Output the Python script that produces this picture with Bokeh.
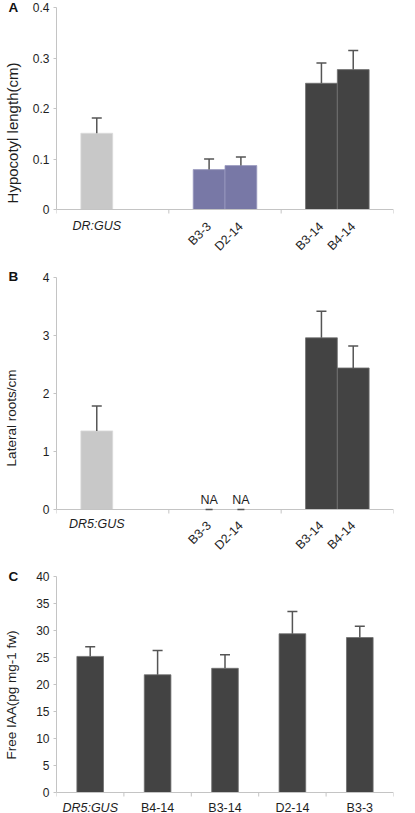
import math
from bokeh.plotting import figure
from bokeh.models import (ColumnDataSource, Whisker, TeeHead, LabelSet, Span,
                          FixedTicker, Range1d, CustomJSTickFormatter)
from bokeh.core.properties import value
from bokeh.layouts import column
from bokeh.embed import file_html
from bokeh.resources import INLINE

FONT = "Liberation Sans"

# ---------------- data ----------------
# Panel A: hypocotyl length
a_labels = ["DR:GUS", "B3-3", "D2-14", "B3-14", "B4-14"]
a_group = [0, 1, 1, 2, 2]
a_slot = [0, 0, 1, 0, 1]
a_values = [0.151, 0.079, 0.087, 0.250, 0.277]
a_errors = [0.030, 0.021, 0.017, 0.040, 0.038]
a_yticks = [0, 0.1, 0.2, 0.3, 0.4]

# Panel B: lateral roots
b_labels = ["DR5:GUS", "B3-3", "D2-14", "B3-14", "B4-14"]
b_group = [0, 1, 1, 2, 2]
b_slot = [0, 0, 1, 0, 1]
b_values = [1.355, 0.0, 0.0, 2.96, 2.44]
b_errors = [0.43, 0.0, 0.0, 0.46, 0.38]
b_na = [False, True, True, False, False]
b_yticks = [0, 1, 2, 3, 4]

# Panel C: free IAA
c_labels = ["DR5:GUS", "B4-14", "B3-14", "D2-14", "B3-3"]
c_values = [25.2, 21.8, 23.0, 29.4, 28.7]
c_errors = [1.8, 4.5, 2.5, 4.1, 2.1]
c_yticks = [0, 5, 10, 15, 20, 25, 30, 35, 40]

GROUP_FILL = ["#c8c8c8", "#7878a6", "#434343"]
GROUP_LINE = ["#dadada", "#9a9ac0", "#707070"]
AXIS_COL = "#c4c4c4"
TEXT_COL = "#1e1e1e"
ERR_COL = "#555555"


def base_fig(height, top, zero, bottom, nx, ymax, yticks, frame_w, ylabel, label_size,
             standoff, fmt, letter, letter_standoff):
    # frame extends below y = 0 so the category labels sit inside it
    above_px = zero - top
    below_px = height - bottom - zero
    ymin = -ymax * below_px / above_px
    p = figure(width=415, height=height, x_range=Range1d(0, nx), y_range=Range1d(ymin, ymax),
               output_backend="svg", toolbar_location=None,
               min_border_left=51, min_border_right=415 - 51 - frame_w,
               min_border_top=top, min_border_bottom=bottom)
    p.xgrid.visible = False
    p.ygrid.visible = False
    p.outline_line_color = None
    p.background_fill_color = "white"
    p.border_fill_color = "white"
    p.xaxis.visible = False
    ya = p.yaxis[0]
    ya.bounds = (0, ymax)
    ya.ticker = FixedTicker(ticks=yticks)
    ya.formatter = CustomJSTickFormatter(code=fmt)
    ya.axis_line_color = AXIS_COL
    ya.major_tick_line_color = AXIS_COL
    ya.major_tick_out = 3
    ya.major_tick_in = 0
    ya.minor_tick_line_color = None
    ya.major_label_text_font = FONT
    ya.major_label_text_font_size = "12px"
    ya.major_label_text_color = TEXT_COL
    ya.major_label_standoff = 4
    ya.axis_label = ylabel
    ya.axis_label_text_font = FONT
    ya.axis_label_text_font_size = label_size
    ya.axis_label_text_font_style = "normal"
    ya.axis_label_text_color = TEXT_COL
    ya.axis_label_standoff = standoff
    # panel letter
    p.title.text = letter
    p.title.align = "left"
    p.title.offset = -48
    p.title.vertical_align = "bottom"
    p.title.standoff = letter_standoff
    p.title.text_font = FONT
    p.title.text_font_size = "13.5px"
    p.title.text_font_style = "bold"
    p.title.text_color = "#111111"
    # x axis line at y = 0 and tick marks at the category boundaries
    p.add_layout(Span(location=0, dimension="width", line_color=AXIS_COL, line_width=1))
    px = ymax / above_px  # data units per pixel
    bnd = list(range(nx + 1))
    p.segment(x0=bnd, y0=[0] * len(bnd), x1=bnd, y1=[-4 * px] * len(bnd),
              line_color=AXIS_COL, line_width=1)
    return p, px


def add_errors(p, xs, tops, errs, size):
    src = ColumnDataSource(dict(x=xs, top=tops, upper=[t + e for t, e in zip(tops, errs)]))
    w = Whisker(source=src, base="x", lower="top", upper="upper", line_color=ERR_COL, line_width=1.5,
                upper_head=TeeHead(size=size, line_color=ERR_COL, line_width=1.5), lower_head=None,
                level="overlay")
    p.add_layout(w)


def add_labels(p, xs, labels, y, angle=0.0, align="center", style="normal"):
    src = ColumnDataSource(dict(x=xs, y=[y] * len(xs), t=labels))
    p.add_layout(LabelSet(x="x", y="y", text="t", source=src, angle=angle, text_align=align,
                          text_baseline="middle", text_font=value(FONT), text_font_size="12.5px",
                          text_font_style=style, text_color=TEXT_COL))


def grouped_panel(labels, group, slot, values, errors, yticks, ymax, ylabel, label_size,
                  height, top, zero, bottom, standoff, letter, letter_standoff, ctrl_drop,
                  rot_drop, fmt, na=None):
    p, px = base_fig(height, top, zero, bottom, 3, ymax, yticks, 360, ylabel, label_size,
                     standoff, fmt, letter, letter_standoff)
    bw = 0.283
    xs = [g + 0.5 + (s - 0.5) * bw for g, s in zip(group, slot)]
    src = ColumnDataSource(dict(x=xs, top=values,
                                fill=[GROUP_FILL[g] for g in group],
                                line=[GROUP_LINE[g] for g in group]))
    p.vbar(x="x", top="top", width=bw, bottom=0, source=src, fill_color="fill", line_color="line",
           line_width=0.8)
    if na is None:
        na = [False] * len(values)
    ok = [i for i in range(len(values)) if not na[i]]
    add_errors(p, [xs[i] for i in ok], [values[i] for i in ok], [errors[i] for i in ok], 10)
    nai = [i for i in range(len(values)) if na[i]]
    if nai:
        add_errors(p, [xs[i] for i in nai], [values[i] for i in nai], [errors[i] for i in nai], 7)
        nsrc = ColumnDataSource(dict(x=[xs[i] for i in nai], y=[0] * len(nai), t=["NA"] * len(nai)))
        p.add_layout(LabelSet(x="x", y="y", text="t", source=nsrc, y_offset=6, text_align="center",
                              text_baseline="alphabetic", text_font=value(FONT),
                              text_font_size="12.5px", text_color=TEXT_COL))
    add_labels(p, xs[:1], labels[:1], -ctrl_drop * px, style="italic")
    add_labels(p, xs[1:], labels[1:], -rot_drop * px, angle=math.pi / 4, align="right")
    return p


pA = grouped_panel(a_labels, a_group, a_slot, a_values, a_errors, a_yticks, 0.4,
                   "Hypocotyl length(cm)", "15px", 260, 7, 209, 2, 9, "A", -15, 16, 15,
                   "return String(Math.round(tick*10)/10);")
pB = grouped_panel(b_labels, b_group, b_slot, b_values, b_errors, b_yticks, 4,
                   "Lateral roots/cm", "13.5px", 300, 17, 249, 2, 21, "B", -12, 14, 14,
                   "return String(Math.round(tick));", na=b_na)

# Panel C
pC, c_px = base_fig(253, 16, 232, 0, 5, 40, c_yticks, 342, "Free IAA(pg mg-1 fw)", "13.5px", 14,
                    "return String(Math.round(tick));", "C", -14)
c_x = [i + 0.5 for i in range(len(c_values))]
csrc = ColumnDataSource(dict(x=c_x, top=c_values))
pC.vbar(x="x", top="top", width=0.395, bottom=0, source=csrc, fill_color=GROUP_FILL[2],
        line_color=GROUP_LINE[2], line_width=0.8)
add_errors(pC, c_x, c_values, c_errors, 10)
add_labels(pC, c_x[:1], c_labels[:1], -15 * c_px, style="italic")
add_labels(pC, c_x[1:], c_labels[1:], -15 * c_px)

layout = column(pA, pB, pC, spacing=0)
open("out.html", "w").write(file_html(layout, INLINE))
